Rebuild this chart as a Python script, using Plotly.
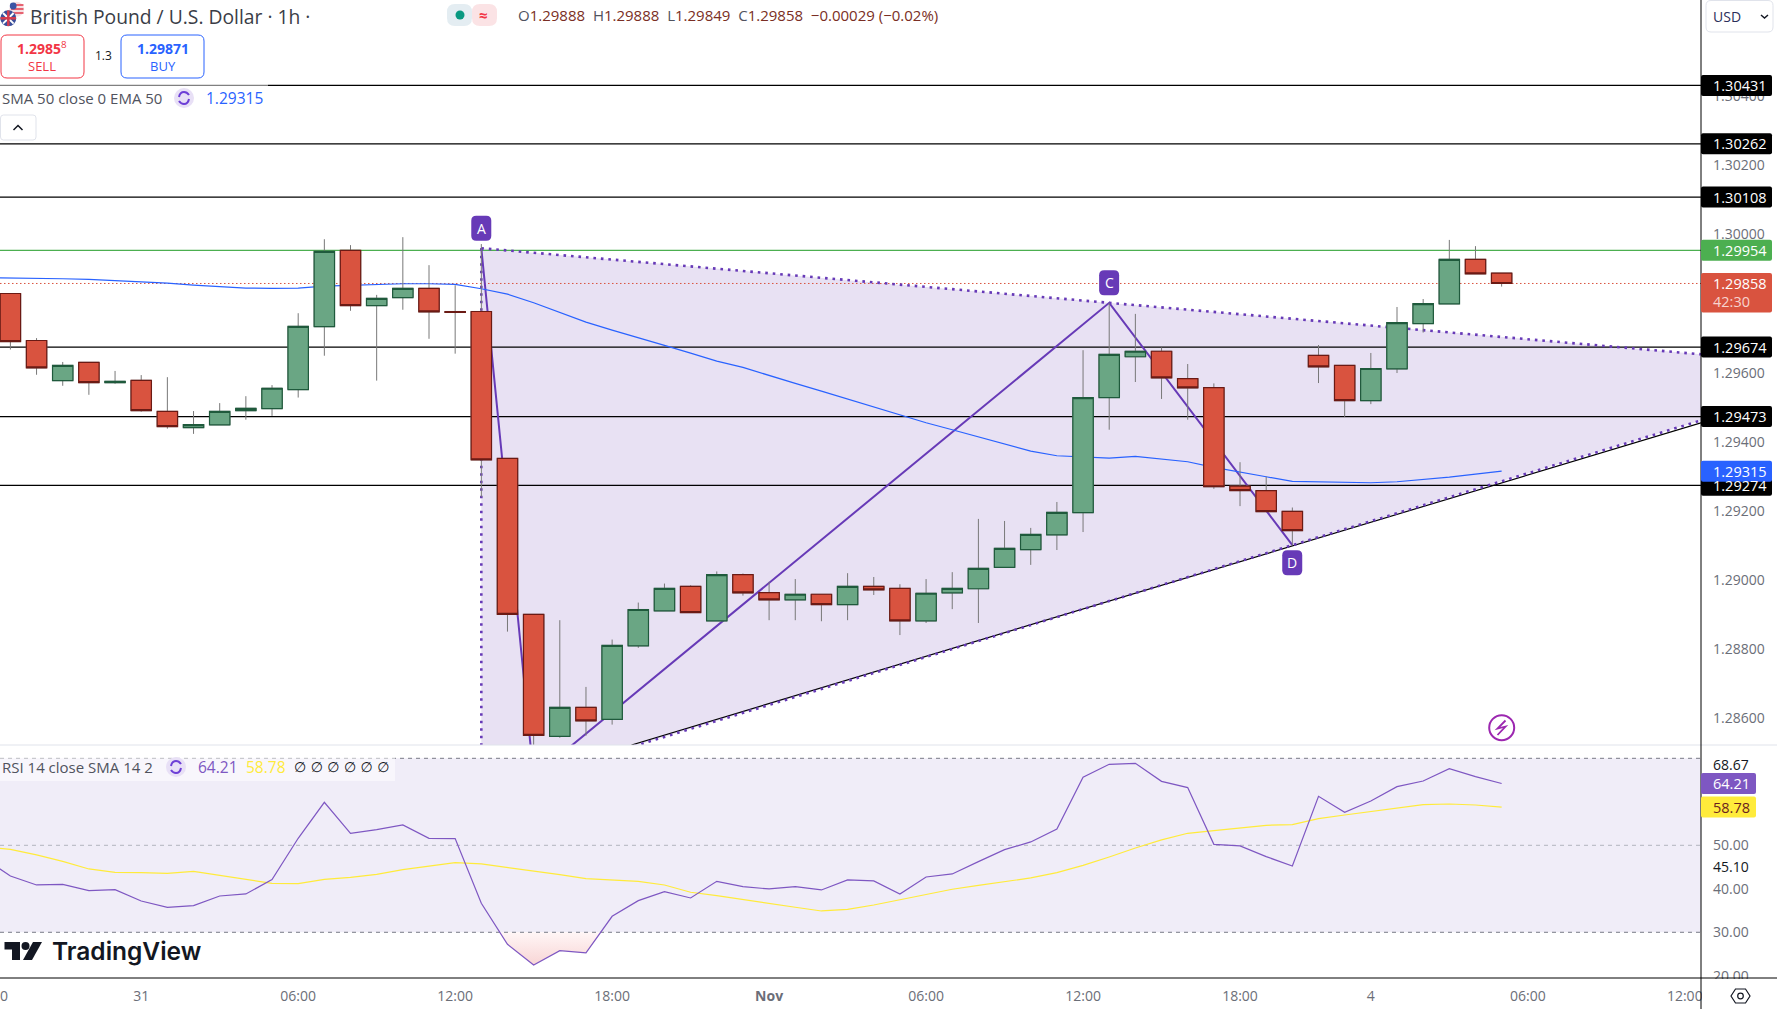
"""
GBP/USD 1h chart with harmonic pattern, EMA 50 and RSI pane.
"""

import plotly.graph_objects as go


BARS = list(range(58))
OPENS = [
    1.29829, 1.29693, 1.29577, 1.29630, 1.29571, 1.29578, 1.29488, 1.29441, 1.29449, 1.29490,
    1.29496, 1.29551, 1.29733, 1.29954, 1.29794, 1.29817, 1.29844, 1.29777, 1.29777, 1.29352,
    1.28901, 1.28548, 1.28632, 1.28597, 1.28810, 1.28911, 1.28982, 1.28882, 1.29016, 1.28964,
    1.28943, 1.28959, 1.28929, 1.28982, 1.28976, 1.28882, 1.28963, 1.28975, 1.29037, 1.29088,
    1.29131, 1.29195, 1.29528, 1.29646, 1.29662, 1.29583, 1.29557, 1.29272, 1.29259, 1.29199,
    1.29650, 1.29621, 1.29519, 1.29611, 1.29742, 1.29799, 1.29928, 1.29888,
]
HIGHS = [
    1.29829, 1.29700, 1.29631, 1.29630, 1.29605, 1.29593, 1.29587, 1.29489, 1.29512, 1.29532,
    1.29564, 1.29772, 1.29986, 1.29969, 1.29825, 1.29992, 1.29911, 1.29853, 1.29972, 1.29352,
    1.28901, 1.28884, 1.28691, 1.28828, 1.28935, 1.28990, 1.28985, 1.29025, 1.29019, 1.28995,
    1.29003, 1.28959, 1.29020, 1.29009, 1.28988, 1.29003, 1.29023, 1.29177, 1.29171, 1.29151,
    1.29226, 1.29665, 1.29802, 1.29770, 1.29673, 1.29625, 1.29569, 1.29341, 1.29299, 1.29210,
    1.29680, 1.29621, 1.29657, 1.29790, 1.29813, 1.29984, 1.29966, 1.29888,
]
LOWS = [
    1.29667, 1.29594, 1.29562, 1.29536, 1.29568, 1.29487, 1.29438, 1.29423, 1.29449, 1.29464,
    1.29475, 1.29528, 1.29649, 1.29779, 1.29577, 1.29782, 1.29698, 1.29655, 1.29240, 1.28851,
    1.28431, 1.28544, 1.28550, 1.28582, 1.28804, 1.28911, 1.28906, 1.28882, 1.28955, 1.28884,
    1.28884, 1.28881, 1.28884, 1.28957, 1.28841, 1.28876, 1.28916, 1.28876, 1.29037, 1.29044,
    1.29087, 1.29139, 1.29435, 1.29573, 1.29524, 1.29464, 1.29264, 1.29214, 1.29198, 1.29101,
    1.29570, 1.29472, 1.29509, 1.29599, 1.29716, 1.29799, 1.29886, 1.29849,
]
CLOSES = [
    1.29690, 1.29614, 1.29621, 1.29571, 1.29575, 1.29490, 1.29444, 1.29450, 1.29488, 1.29497,
    1.29555, 1.29734, 1.29951, 1.29794, 1.29815, 1.29844, 1.29776, 1.29774, 1.29348, 1.28901,
    1.28551, 1.28632, 1.28593, 1.28811, 1.28915, 1.28976, 1.28906, 1.29016, 1.28963, 1.28943,
    1.28959, 1.28929, 1.28982, 1.28972, 1.28882, 1.28962, 1.28976, 1.29034, 1.29092, 1.29132,
    1.29196, 1.29528, 1.29653, 1.29662, 1.29585, 1.29556, 1.29270, 1.29259, 1.29198, 1.29143,
    1.29617, 1.29519, 1.29612, 1.29745, 1.29800, 1.29928, 1.29886, 1.29858,
]
# Indicators start one bar before the first visible candle
LINE_BARS = list(range(-1, 58))
EMA_50 = [
    1.298750, 1.298746, 1.298736, 1.298717, 1.298698, 1.298669, 1.298640, 1.298592, 1.298534,
    1.298486, 1.298447, 1.298437, 1.298447, 1.298505, 1.298534, 1.298563, 1.298572, 1.298572,
    1.298553, 1.298428, 1.298273, 1.298023, 1.297750, 1.297463, 1.297232, 1.297000, 1.296788,
    1.296566, 1.296335, 1.296152, 1.295911, 1.295689, 1.295467, 1.295236, 1.295014, 1.294783,
    1.294551, 1.294349, 1.294137, 1.293934, 1.293732, 1.293597, 1.293558, 1.293530, 1.293578,
    1.293510, 1.293424, 1.293260, 1.293115, 1.292990, 1.292855, 1.292845, 1.292826, 1.292816,
    1.292845, 1.292903, 1.292980, 1.293067, 1.293150,
]
RSI = [
    47.00, 42.95, 40.88, 41.03, 39.58, 39.81, 37.20, 35.75, 36.13, 38.35, 38.81,
    42.11, 51.61, 59.89, 52.76, 53.60, 54.67, 51.61, 51.53, 36.67, 27.24,
    22.49, 25.79, 25.25, 33.68, 37.28, 39.35, 37.89, 41.72, 40.50, 39.96,
    40.50, 39.73, 42.03, 41.80, 38.81, 42.72, 43.41, 46.25, 49.00, 50.77,
    53.75, 65.63, 68.62, 68.85, 64.71, 63.26, 50.23, 49.85, 47.39, 45.25,
    61.26, 57.59, 60.19, 63.49, 64.79, 67.62, 65.79, 64.21,
]
RSI_SMA = [
    49.60, 49.08, 47.78, 46.32, 44.56, 43.79, 43.72, 43.56, 44.02, 43.10, 42.26,
    41.26, 41.19, 42.18, 42.64, 43.33, 44.41, 45.17, 46.02, 45.71, 44.94,
    44.02, 43.26, 42.34, 42.03, 41.72, 40.88, 39.20, 38.43, 37.51, 36.51,
    35.75, 34.90, 35.29, 36.28, 37.43, 38.58, 39.89, 40.80, 41.72, 42.49,
    43.72, 45.40, 47.32, 49.39, 51.23, 52.76, 53.37, 53.98, 54.60, 54.75,
    56.13, 56.97, 57.82, 58.66, 59.35, 59.50, 59.27, 58.78,
]
OVERSOLD_X = [18.71, 19, 20, 21, 22, 22.56]
OVERSOLD_Y = [30, 27.24, 22.49, 25.79, 25.25, 30]

LEVELS = [1.30431, 1.30262, 1.30108, 1.29674, 1.29473, 1.29274]
RESISTANCE = 1.29954
LAST_PRICE = 1.29858

PATTERN_X = [18, 20, 42, 49]
PATTERN_Y = [1.29960, 1.28431, 1.29802, 1.29101]
TREND_X = [23.74, 64.62]
TREND_Y = [1.28523, 1.29455]

TIME_TICKS = [5, 11, 17, 23, 29, 35, 41, 47, 52, 58, 64]
TIME_LABELS = ['31', '06:00', '12:00', '18:00', '<b>Nov</b>', '06:00', '12:00', '18:00',
               '4', '06:00', '12:00']
PRICE_TICKS = [1.286, 1.288, 1.290, 1.292, 1.294, 1.296, 1.300, 1.302, 1.304]
PRICE_LABELS = ['1.28600', '1.28800', '1.29000', '1.29200', '1.29400', '1.29600',
                '1.30000', '1.30200', '1.30400']
RSI_TICKS = [20, 30, 40, 50]
RSI_LABELS = ['20.00', '30.00', '40.00', '50.00']

WIDTH, HEIGHT = 1777, 1009
PLOT_W, PLOT_H = 1701, 978
PANE_PX = 745
X_RANGE = [-0.3976, 64.62]
PRICE_RANGE = [1.28523, 1.30678]
RSI_RANGE = [19.49, 73.06]

FONT = 'Open Sans'
PURPLE = '#673ab7'
RED = '#d9533f'
GREEN = '#6aa684'
FILL = '#e8e1f3'


def px(x):
    return x / PLOT_W


def py(y):
    return 1 - y / PLOT_H


def box_path(x0, y0, x1, y1, r):
    """Rounded rectangle as an svg path in paper coordinates."""
    pts = [
        ('M', x0 + r, y0), ('L', x1 - r, y0), ('Q', x1, y0, x1, y0 + r),
        ('L', x1, y1 - r), ('Q', x1, y1, x1 - r, y1), ('L', x0 + r, y1),
        ('Q', x0, y1, x0, y1 - r), ('L', x0, y0 + r), ('Q', x0, y0, x0 + r, y0),
    ]
    return line_path(pts) + ' Z'


def line_path(pts):
    out = []
    for p in pts:
        coords = [f'{px(p[i])},{py(p[i + 1])}' for i in range(1, len(p), 2)]
        out.append(p[0] + ' ' + ' '.join(coords))
    return ' '.join(out)


def add_path(fig, path, fill='rgba(0,0,0,0)', line='rgba(0,0,0,0)', width=1):
    fig.add_shape(type='path', path=path, xref='paper', yref='paper', layer='above',
                  fillcolor=fill, line={'color': line, 'width': width})


def add_box(fig, x0, y0, x1, y1, r=3, fill='rgba(0,0,0,0)', line='rgba(0,0,0,0)', width=1):
    add_path(fig, box_path(x0, y0, x1, y1, r), fill, line, width)


def add_circle(fig, x, y, r, fill='rgba(0,0,0,0)', line='rgba(0,0,0,0)', width=1):
    fig.add_shape(type='circle', xref='paper', yref='paper', layer='above',
                  x0=px(x - r), x1=px(x + r), y0=py(y + r), y1=py(y - r),
                  fillcolor=fill, line={'color': line, 'width': width})


def add_seg(fig, x0, y0, x1, y1, color, width=1):
    fig.add_shape(type='line', xref='paper', yref='paper', layer='above',
                  x0=px(x0), x1=px(x1), y0=py(y0), y1=py(y1),
                  line={'color': color, 'width': width})


def add_text(fig, x, y, text, size=13, color='#131722', anchor='left', font=FONT, weight=None):
    fig.add_annotation(x=px(x), y=py(y), xref='paper', yref='paper', text=text,
                       showarrow=False, xanchor=anchor, yanchor='middle', borderpad=0,
                       font={'family': font, 'size': size, 'color': color,
                             'weight': weight or 'normal'})


def add_refresh_icon(fig, x, y):
    add_circle(fig, x, y, 10, fill='#e8e0f6')
    add_path(fig, line_path([('M', x - 5, y - 1), ('Q', x - 4, y - 6, x, y - 6),
                             ('Q', x + 3, y - 6, x + 5, y - 3)]), line='#6d3fd6', width=2)
    add_path(fig, line_path([('M', x + 5, y + 1), ('Q', x + 4, y + 6, x, y + 6),
                             ('Q', x - 3, y + 6, x - 5, y + 3)]), line='#6d3fd6', width=2)


def add_axis_label(fig, y, text, fill, color='white', x1=1772, half=10.5):
    add_box(fig, 1701, y - half, x1, y + half, r=2, fill=fill)
    add_text(fig, 1712, y, text, size=14.5, color=color, weight=500)


def price_px(value):
    span = PRICE_RANGE[1] - PRICE_RANGE[0]
    return (PRICE_RANGE[1] - value) / span * PANE_PX


def rsi_px(value):
    span = RSI_RANGE[1] - RSI_RANGE[0]
    return PANE_PX + (RSI_RANGE[1] - value) / span * (PLOT_H - PANE_PX)


def add_overlays(fig):
    """Header, legends, badges, axis labels and small icons."""
    # Legend veils
    add_box(fig, 0, 84, 268, 108, r=0, fill='rgba(255,255,255,0.5)')
    add_box(fig, 0, 757, 395, 781, r=0, fill='rgba(255,255,255,0.5)')

    # Flags
    add_circle(fig, 16.7, 9.3, 7.5, fill='#f6dfe2')
    for y in (5, 9, 13):
        add_seg(fig, 11, y, 23.5, y, '#e0394b', 1.5)
    add_circle(fig, 13.2, 6, 3.4, fill='#3b55a5')
    add_circle(fig, 8.3, 18.3, 8, fill='#3b4f9b')
    add_seg(fig, 3, 13, 13.6, 23.6, '#ffffff', 2)
    add_seg(fig, 13.6, 13, 3, 23.6, '#ffffff', 2)
    add_seg(fig, 8.3, 10.5, 8.3, 26, '#d63c4e', 2.5)
    add_seg(fig, 0.5, 18.3, 16, 18.3, '#d63c4e', 2.5)

    # Header
    add_text(fig, 29, 16, 'British Pound / U.S. Dollar · 1h ·', size=19.3, color='#3a3d47')
    add_box(fig, 447, 4, 472, 26, r=8, fill='#e4edf2')
    add_box(fig, 472, 4, 497, 26, r=8, fill='#fbe3e5')
    add_circle(fig, 460, 15, 4.5, fill='#089981')
    add_text(fig, 483, 15, '<b>≈</b>', size=15, color='#f23645', anchor='center')
    val = '#7a2e24'
    lab = '#50535e'
    gap = '&nbsp;&nbsp;'
    ohlc = (f'<span style="color:{lab}">O</span>1.29888{gap}<span style="color:{lab}">H</span>1.29888{gap}'
            f'<span style="color:{lab}">L</span>1.29849{gap}<span style="color:{lab}">C</span>1.29858{gap}'
            '−0.00029 (−0.02%)')
    add_text(fig, 517, 15, ohlc, size=15, color=val)

    # Sell / buy buttons
    add_box(fig, 1, 35, 84, 78, r=6, fill='white', line='#f23645')
    add_text(fig, 42, 48, '<b>1.2985</b><sup>8</sup>', size=14, color='#f23645', anchor='center')
    add_text(fig, 42, 66, 'SELL', size=13, color='#f23645', anchor='center')
    add_text(fig, 103, 56, '1.3', size=12, color='#131722', anchor='center')
    add_box(fig, 121, 35, 204, 78, r=6, fill='white', line='#2962ff')
    add_text(fig, 163, 48, '<b>1.29871</b>', size=14, color='#2962ff', anchor='center')
    add_text(fig, 163, 66, 'BUY', size=13, color='#2962ff', anchor='center')

    # Legends
    add_text(fig, 1, 98, 'SMA 50 close 0 EMA 50', size=15, color='#50535e')
    add_refresh_icon(fig, 184, 98)
    add_text(fig, 205, 98, '1.29315', size=15.5, color='#2962ff')
    add_box(fig, 0.5, 115, 36, 140, r=3, fill='white', line='#e0e3eb')
    add_path(fig, line_path([('M', 13.5, 130), ('L', 18, 125.5), ('L', 22.5, 130)]),
             line='#131722', width=1.5)

    add_text(fig, 1, 767, 'RSI 14 close SMA 14 2', size=15, color='#50535e')
    add_refresh_icon(fig, 176, 767)
    add_text(fig, 197, 767, '64.21', size=15.5, color='#7e57c2')
    add_text(fig, 245, 767, '58.78', size=15.5, color='#ffeb3b')
    add_text(fig, 293, 767, '∅ ∅ ∅ ∅ ∅ ∅', size=14, color='#131722', font='DejaVu Sans')

    # Pattern badges
    for i, name in ((18, 'A'), (42, 'C')):
        cx = 10.4 + 26.16 * i
        cy = price_px(PATTERN_Y[PATTERN_X.index(i)]) - 20
        add_box(fig, cx - 10, cy - 12.5, cx + 10, cy + 12.5, r=5, fill=PURPLE)
        add_text(fig, cx, cy, name, size=14, color='white', anchor='center')
    cx = 10.4 + 26.16 * 49
    cy = price_px(PATTERN_Y[3]) + 17.5
    add_box(fig, cx - 10, cy - 12.5, cx + 10, cy + 12.5, r=5, fill=PURPLE)
    add_text(fig, cx, cy, 'D', size=14, color='white', anchor='center')

    # Lightning icon
    add_circle(fig, 1501.7, 727.7, 12.5, fill='white', line='#9c27b0', width=2)
    add_path(fig, line_path([('M', 1505.5, 720.5), ('L', 1497.5, 728.5), ('L', 1505.5, 726.5),
                             ('L', 1497.5, 735)]), line='#9c27b0', width=1.8)

    # Logo
    ink = '#131722'
    add_path(fig, line_path([('M', 4.5, 942), ('L', 20, 942), ('L', 20, 960), ('L', 12, 960),
                             ('L', 12, 949.5), ('L', 4.5, 949.5)]) + ' Z', fill=ink)
    add_circle(fig, 25.5, 946, 4, fill=ink)
    add_path(fig, line_path([('M', 33, 942), ('L', 42, 942), ('L', 32, 960), ('L', 23, 960)]) + ' Z',
             fill=ink)
    add_text(fig, 51, 951, 'TradingView', size=24.5, color=ink, font='Inter', weight=600)

    # Price axis frame
    add_seg(fig, 0, PANE_PX, WIDTH, PANE_PX, '#e0e3eb')
    add_box(fig, 1702, 979, WIDTH, HEIGHT, r=0, fill='white')
    add_seg(fig, 0, 978, WIDTH, 978, 'black')
    add_seg(fig, 1701, 0, 1701, HEIGHT, 'black')

    # Price labels
    for level in LEVELS:
        text = f'{level:.5f}'
        add_axis_label(fig, price_px(level), text, '#000000')
    add_axis_label(fig, price_px(RESISTANCE), f'{RESISTANCE:.5f}', '#4caf50')
    y = price_px(LAST_PRICE)
    add_box(fig, 1701, y - 10.5, 1772, y + 29, r=2, fill=RED)
    add_text(fig, 1712, y, f'{LAST_PRICE:.5f}', size=14.5, color='white', weight=500)
    add_text(fig, 1712, y + 18, '42:30', size=14.5, color='#f7d4cf')
    add_axis_label(fig, price_px(EMA_50[-1]), f'{EMA_50[-1]:.5f}', '#2962ff')

    # RSI labels
    add_text(fig, 1712, rsi_px(68.67), '68.67', size=14, color='#131722')
    add_text(fig, 1712, rsi_px(45.10), '45.10', size=14, color='#131722')
    add_axis_label(fig, rsi_px(RSI[-1]), f'{RSI[-1]:.2f}', '#7e57c2', x1=1756)
    add_axis_label(fig, rsi_px(RSI_SMA[-1]), f'{RSI_SMA[-1]:.2f}', '#ffeb3b', color='#6b1f1f', x1=1756)

    # Currency selector
    add_box(fig, 1706, 0.5, 1773, 32, r=5, fill='white', line='#e0e3eb')
    add_text(fig, 1712, 16, 'USD', size=14, color='#2a2e5a')
    add_path(fig, line_path([('M', 1761, 15), ('L', 1764.5, 18), ('L', 1768, 15)]),
             line='#131722', width=1.5)

    # Settings hexagon
    hx, hy = 1740.5, 996
    add_path(fig, line_path([('M', hx - 9.5, hy), ('L', hx - 5, hy - 7), ('L', hx + 5, hy - 7),
                             ('L', hx + 9.5, hy), ('L', hx + 5, hy + 7), ('L', hx - 5, hy + 7)]) + ' Z',
             line='#131722', width=1.2)
    add_circle(fig, hx, hy, 2.8, line='#131722', width=1.2)


def create():
    fig = go.Figure()
    right = X_RANGE[1]

    # Pattern area and its boundary lines
    a_x, b_x, c_x, d_x = PATTERN_X
    a_y, b_y, c_y, d_y = PATTERN_Y
    top_right = a_y + (c_y - a_y) * (right - a_x) / (c_x - a_x)
    bottom_right = b_y + (d_y - b_y) * (right - b_x) / (d_x - b_x)
    fig.add_trace(go.Scatter(
        x=[a_x, right, right, b_x, a_x], y=[a_y, top_right, bottom_right, b_y, b_y],
        mode='none', fill='toself', fillcolor=FILL, hoverinfo='skip'
    ))

    # Support and resistance levels
    for level in LEVELS:
        fig.add_trace(go.Scatter(
            x=X_RANGE, y=[level, level], mode='lines',
            line={'color': '#000000', 'width': 1.2}, hoverinfo='skip'
        ))
    fig.add_trace(go.Scatter(
        x=X_RANGE, y=[RESISTANCE, RESISTANCE], mode='lines',
        line={'color': '#4caf50', 'width': 1.2}, hoverinfo='skip'
    ))
    fig.add_trace(go.Scatter(
        x=X_RANGE, y=[LAST_PRICE, LAST_PRICE], mode='lines',
        line={'color': RED, 'width': 1, 'dash': '1.5px,2.5px'}, hoverinfo='skip'
    ))

    fig.add_trace(go.Scatter(
        x=TREND_X, y=TREND_Y, mode='lines', line={'color': '#000000', 'width': 1.2}, hoverinfo='skip'
    ))
    dotted = {'color': PURPLE, 'width': 2.6, 'dash': '2.6px,4.9px'}
    for xs, ys in (([a_x, right], [a_y, top_right]), ([b_x, right], [b_y, bottom_right]),
                   ([a_x, a_x], [a_y, b_y])):
        fig.add_trace(go.Scatter(x=xs, y=ys, mode='lines', line=dotted, hoverinfo='skip'))
    fig.add_trace(go.Scatter(
        x=PATTERN_X, y=PATTERN_Y, mode='lines', line={'color': PURPLE, 'width': 2}, hoverinfo='skip'
    ))
    fig.add_trace(go.Scatter(
        x=LINE_BARS, y=EMA_50, mode='lines', line={'color': '#2962ff', 'width': 1.2}, hoverinfo='skip'
    ))

    # Candles on an overlaid axis so they sit over the lines
    wick = {'color': '#787878', 'width': 1}
    fig.add_trace(go.Candlestick(
        x=BARS, open=OPENS, high=HIGHS, low=LOWS, close=CLOSES, yaxis='y3', whiskerwidth=0,
        increasing={'line': wick, 'fillcolor': GREEN},
        decreasing={'line': wick, 'fillcolor': RED}
    ))
    fig.add_trace(go.Candlestick(
        x=BARS, open=OPENS, close=CLOSES, yaxis='y3', whiskerwidth=0,
        high=[max(o, c) for o, c in zip(OPENS, CLOSES)],
        low=[min(o, c) for o, c in zip(OPENS, CLOSES)],
        increasing={'line': {'color': '#1f5a3c', 'width': 1.2}, 'fillcolor': GREEN},
        decreasing={'line': {'color': '#6b1a14', 'width': 1.2}, 'fillcolor': RED}
    ))

    # RSI pane
    fig.add_trace(go.Scatter(
        x=[X_RANGE[0], right, right, X_RANGE[0]], y=[30, 30, 70, 70], yaxis='y2',
        mode='none', fill='toself', fillcolor='#f0edf8', hoverinfo='skip'
    ))
    fig.add_trace(go.Scatter(
        x=OVERSOLD_X, y=OVERSOLD_Y, yaxis='y2', mode='none', fill='toself', hoverinfo='skip',
        fillgradient={'type': 'vertical',
                      'colorscale': [[0, '#f8d5d5'], [1, '#fff6f6']]}
    ))
    for level, color in ((70, '#787b86'), (50, '#b2b5be'), (30, '#787b86')):
        fig.add_trace(go.Scatter(
            x=X_RANGE, y=[level, level], yaxis='y2', mode='lines', hoverinfo='skip',
            line={'color': color, 'width': 1, 'dash': '4px,4px'}
        ))
    fig.add_trace(go.Scatter(
        x=LINE_BARS, y=RSI_SMA, yaxis='y2', mode='lines', line={'color': '#ffeb3b', 'width': 1.2},
        hoverinfo='skip'
    ))
    fig.add_trace(go.Scatter(
        x=LINE_BARS, y=RSI, yaxis='y2', mode='lines', line={'color': '#7e57c2', 'width': 1.2},
        hoverinfo='skip'
    ))

    split = 1 - PANE_PX / PLOT_H
    tick_font = {'family': FONT, 'size': 14, 'color': '#6b6e78'}
    fig.update_layout(
        width=WIDTH,
        height=HEIGHT,
        margin={'l': 0, 'r': WIDTH - PLOT_W, 't': 0, 'b': HEIGHT - PLOT_H, 'pad': 0},
        plot_bgcolor='white',
        paper_bgcolor='white',
        showlegend=False,
        boxgap=0.22,
        boxgroupgap=0,
        font={'family': FONT},
        xaxis={
            'range': X_RANGE, 'anchor': 'y2', 'tickmode': 'array', 'tickvals': TIME_TICKS,
            'ticktext': TIME_LABELS, 'showgrid': False, 'zeroline': False, 'ticks': '',
            'ticklabelstandoff': 8, 'rangeslider': {'visible': False}, 'tickfont': tick_font,
        },
        yaxis={
            'domain': [split, 1], 'range': PRICE_RANGE, 'side': 'right', 'showgrid': False,
            'zeroline': False, 'tickmode': 'array', 'tickvals': PRICE_TICKS,
            'ticktext': PRICE_LABELS, 'ticks': '', 'ticklabelstandoff': 11, 'tickfont': tick_font,
        },
        yaxis2={
            'domain': [0, split], 'range': RSI_RANGE, 'side': 'right', 'showgrid': False,
            'zeroline': False, 'tickmode': 'array', 'tickvals': RSI_TICKS,
            'ticktext': RSI_LABELS, 'ticks': '', 'ticklabelstandoff': 11, 'tickfont': tick_font,
        },
        yaxis3={
            'overlaying': 'y', 'range': PRICE_RANGE, 'side': 'right', 'showgrid': False,
            'zeroline': False, 'showticklabels': False, 'ticks': '',
        },
    )
    # Left edge of the clipped 18:00 tick label
    add_text(fig, -1, 995, '0', size=14, color='#6b6e78')
    add_overlays(fig)
    return fig


fig = create()
fig.write_html(
    "out.html",
    config={'displayModeBar': False},
    post_script="document.body.style.margin='0';"
)
